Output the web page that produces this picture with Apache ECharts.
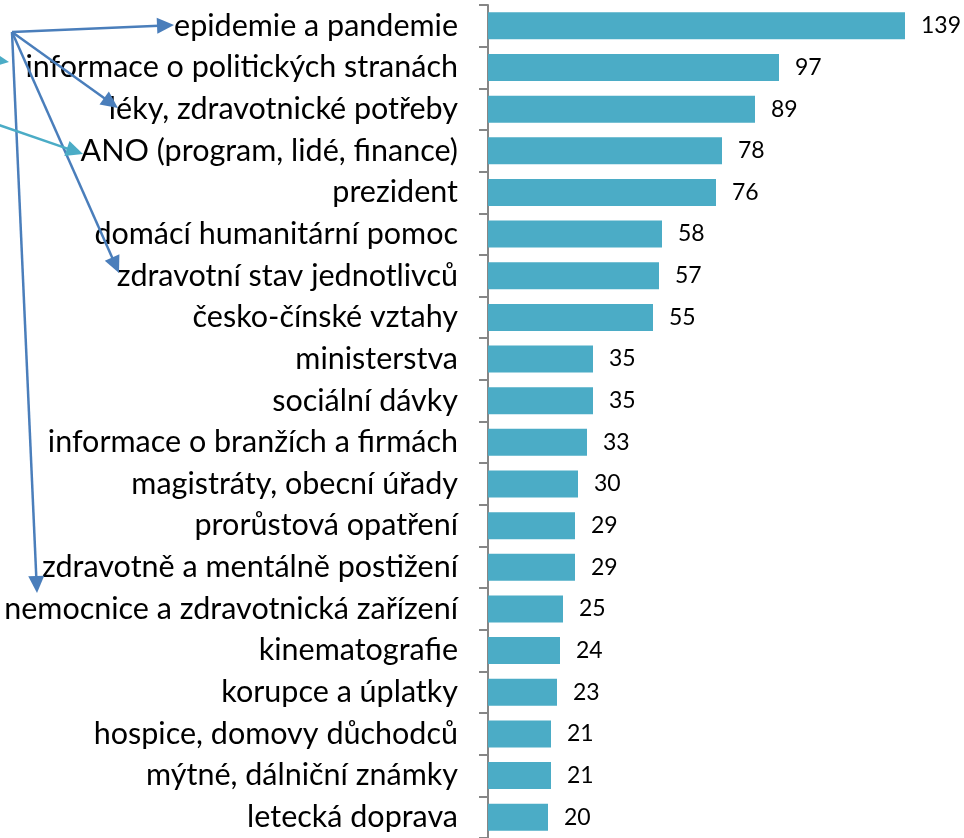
<!DOCTYPE html>
<html><head><meta charset="utf-8">
<script src="https://cdn.jsdelivr.net/npm/echarts@6/dist/echarts.min.js"></script>
<style>html,body{margin:0;padding:0;background:#fff}#c{width:964px;height:838px}</style>
</head><body><div id="c"></div>
<script>
const categories = ["epidemie a pandemie","informace o politických stranách","léky, zdravotnické potřeby","ANO (program, lidé, finance)","prezident","domácí humanitární pomoc","zdravotní stav jednotlivců","česko-čínské vztahy","ministerstva","sociální dávky","informace o branžích a firmách","magistráty, obecní úřady","prorůstová opatření","zdravotně a mentálně postižení","nemocnice a zdravotnická zařízení","kinematografie","korupce a úplatky","hospice, domovy důchodců","mýtné, dálniční známky","letecká doprava"];
const values = [139,97,89,78,76,58,57,55,35,35,33,30,29,29,25,24,23,21,21,20];

const FONT = 'Lato';
const chart = echarts.init(document.getElementById('c'), null, {renderer:'canvas'});

function arrow(x1,y1,x2,y2,color){
  const dx=x2-x1, dy=y2-y1, L=Math.hypot(dx,dy), ux=dx/L, uy=dy/L;
  const hl=17, hw=8;
  const bx=x2-ux*hl, by=y2-uy*hl;
  return [
    {type:'line',shape:{x1:x1,y1:y1,x2:bx+ux*2,y2:by+uy*2},style:{stroke:color,lineWidth:2.5},z:10},
    {type:'polygon',shape:{points:[[x2,y2],[bx-uy*hw,by+ux*hw],[bx+uy*hw,by-ux*hw]]},style:{fill:color},z:10}
  ];
}
const blue='#4a7ebb', cyan='#4bacc6';
const gfx = [].concat(
  arrow(12,32,174,25,blue),
  arrow(12,32,118,108,blue),
  arrow(12,32,119,273,blue),
  arrow(12,32,37,593,blue),
  arrow(-30,56,9,62,cyan),
  arrow(-10,122,83,154,cyan)
);

chart.setOption({
  animation:false,
  grid:{left:488,right:26,top:5,bottom:-1,containLabel:false},
  xAxis:{type:'value',min:0,max:150,show:false},
  yAxis:{type:'category',data:categories,inverse:true,
    axisLine:{show:true,lineStyle:{color:'#868686',width:2}},
    axisTick:{show:true,length:9,lineStyle:{color:'#868686',width:2}},
    axisLabel:{color:'#000',fontFamily:FONT,fontSize:30.5,margin:30}
  },
  series:[{type:'bar',data:values,barWidth:27,
    itemStyle:{color:'#4bacc6'},
    label:{show:true,position:'right',distance:16,color:'#000',fontFamily:FONT,fontSize:23}
  }],
  graphic:gfx
});
</script></body></html>
